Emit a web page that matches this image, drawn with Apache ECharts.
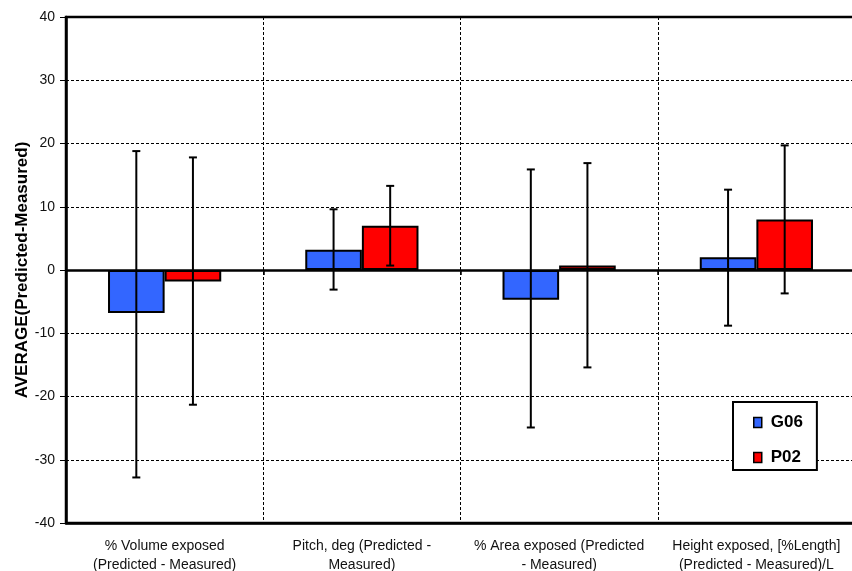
<!DOCTYPE html>
<html>
<head>
<meta charset="utf-8">
<script src="https://cdn.jsdelivr.net/npm/echarts@6/dist/echarts.min.js"></script>
<style>html,body{margin:0;padding:0;background:#fff;}#c{width:852px;height:571px;}</style>
</head>
<body>
<div id="c"></div>
<script>
var categories = [
  "% Volume exposed\n(Predicted - Measured)",
  "Pitch, deg (Predicted -\nMeasured)",
  "% Area exposed (Predicted\n- Measured)",
  "Height exposed, [%Length]\n(Predicted - Measured)/L"
];
var seriesNames = ["G06", "P02"];
var g06 = [-6.8, 3.2, -4.7, 2.0];
var g06High = [18.8, 9.6, 15.9, 12.7];
var g06Low = [-32.8, -3.1, -24.9, -8.8];
var p02 = [-1.8, 7.0, 0.7, 8.0];
var p02High = [17.8, 13.3, 16.9, 19.7];
var p02Low = [-21.3, 0.7, -15.4, -3.7];
var yTicks = { min: -40, max: 40, interval: 10 };

var FONT = "'Liberation Sans', Arial, sans-serif";
var CAT_GAP = 0.426;

function errData(low, high) {
  return categories.map(function (c, i) { return [i, low[i], high[i]]; });
}
function errRender(side) {
  return function (params, api) {
    var idx = api.value(0);
    var cw = api.size([1, 0])[0];
    var bw = cw * (1 - CAT_GAP) / 2;
    var pLo = api.coord([idx, api.value(1)]);
    var pHi = api.coord([idx, api.value(2)]);
    var x = pLo[0] + side * bw / 2;
    var cap = 4;
    var st = { stroke: '#000', lineWidth: 2 };
    return {
      type: 'group',
      children: [
        { type: 'line', shape: { x1: x, y1: pLo[1], x2: x, y2: pHi[1] }, style: st },
        { type: 'line', shape: { x1: x - cap, y1: pHi[1], x2: x + cap, y2: pHi[1] }, style: st },
        { type: 'line', shape: { x1: x - cap, y1: pLo[1], x2: x + cap, y2: pLo[1] }, style: st }
      ]
    };
  };
}

var chart = echarts.init(document.getElementById('c'));
chart.setOption({
  animation: false,
  backgroundColor: '#fff',
  textStyle: { fontFamily: FONT },
  grid: { left: 66, top: 17, bottom: 48, right: -3, outerBoundsMode: 'none', containLabel: false, show: true, borderColor: '#000', borderWidth: 2.5, backgroundColor: 'transparent' },
  legend: {
    data: seriesNames,
    orient: 'vertical',
    left: 733, top: 402,
    padding: [12, 14, 4, 20],
    itemGap: 18,
    itemWidth: 8, itemHeight: 10,
    icon: 'rect',
    itemStyle: { borderColor: '#000', borderWidth: 1.5 },
    borderColor: '#000', borderWidth: 2,
    backgroundColor: '#fff',
    textStyle: { fontFamily: FONT, fontSize: 17, fontWeight: 'bold', color: '#000', padding: [0, 0, 0, 4] }
  },
  xAxis: [
    {
      type: 'category', data: categories, position: 'bottom',
      axisLine: { onZero: false, lineStyle: { color: '#000', width: 2.5 } },
      axisTick: { show: false },
      axisLabel: { fontFamily: FONT, fontSize: 14, color: '#111', lineHeight: 18.5, margin: 14, interval: 0 },
      splitLine: { show: true, interval: 0, lineStyle: { color: '#000', width: 1, type: [3, 2] } }
    },
    {
      type: 'category', data: categories, position: 'bottom',
      axisLine: { onZero: true, lineStyle: { color: '#000', width: 2.5 } },
      axisTick: { show: true, interval: 0, length: 5, lineStyle: { color: '#000', width: 1.5 } },
      axisLabel: { show: false },
      splitLine: { show: false }
    }
  ],
  yAxis: {
    type: 'value', min: yTicks.min, max: yTicks.max, interval: yTicks.interval,
    name: 'AVERAGE(Predicted-Measured)', nameLocation: 'middle', nameGap: 35, nameMoveOverlap: false,
    nameTextStyle: { fontFamily: FONT, fontSize: 17, fontWeight: 'bold', color: '#000' },
    axisLine: { show: true, lineStyle: { color: '#000', width: 2.5 } },
    axisTick: { show: true, length: 6, lineStyle: { color: '#000', width: 1 } },
    axisLabel: { fontFamily: FONT, fontSize: 14, color: '#111', margin: 11 },
    splitLine: { show: true, lineStyle: { color: '#000', width: 1, type: [3, 2] } }
  },
  series: [
    {
      name: 'G06', type: 'bar', data: g06, xAxisIndex: 0,
      barGap: '0%', barCategoryGap: (CAT_GAP * 100) + '%',
      itemStyle: { color: '#3366FF', borderColor: '#000', borderWidth: 2 }
    },
    {
      name: 'P02', type: 'bar', data: p02, xAxisIndex: 0,
      barGap: '0%', barCategoryGap: (CAT_GAP * 100) + '%',
      itemStyle: { color: '#FF0000', borderColor: '#000', borderWidth: 2 }
    },
    {
      name: 'G06 err', type: 'custom', xAxisIndex: 0, data: errData(g06Low, g06High),
      encode: { x: 0, y: [1, 2] }, renderItem: errRender(-1), z: 5
    },
    {
      name: 'P02 err', type: 'custom', xAxisIndex: 0, data: errData(p02Low, p02High),
      encode: { x: 0, y: [1, 2] }, renderItem: errRender(1), z: 5
    }
  ]
});
</script>
</body>
</html>
